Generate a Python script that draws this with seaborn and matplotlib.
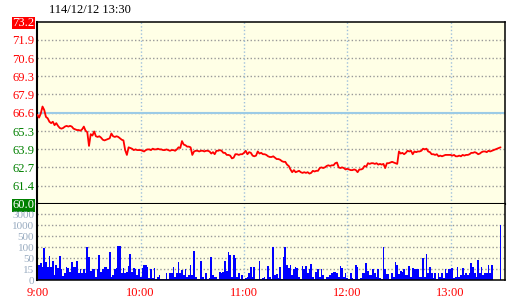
import numpy as np
import pandas as pd
import matplotlib
matplotlib.use("Agg")
import matplotlib.pyplot as plt
import seaborn as sns

# ---------------- data ----------------
title_text = "114/12/12 13:30"
time_labels = ["9:00", "10:00", "11:00", "12:00", "13:00"]
time_label_minutes = [0, 60, 120, 180, 240]

prev_close = 66.6
limit_up = 73.2
limit_down = 60.0
price_tick_labels = ["73.2", "71.9", "70.6", "69.3", "67.9", "66.6",
                     "65.3", "63.9", "62.7", "61.4", "60.0"]

volume_tick_values = [0, 15, 50, 100, 500, 1000, 3000]
volume_tick_labels = ["0", "15", "50", "100", "500", "1000", "3000"]

price = [
    66.45, 66.25, 66.55, 67.05, 66.8, 66.3, 66.2, 65.95, 65.85, 65.95,
    65.7, 65.85, 65.65, 65.5, 65.45, 65.5, 65.6, 65.65, 65.6, 65.65,
    65.6, 65.45, 65.4, 65.35, 65.35, 65.3, 65.4, 65.6, 65.3, 65.2,
    64.2, 65.05, 64.95, 65.25, 64.9, 64.85, 64.9, 64.8, 64.65, 64.6,
    64.65, 64.7, 64.75, 65.1, 64.9, 64.85, 64.9, 64.85, 64.75, 64.65,
    64.6, 63.9, 63.55, 64.1, 64.05, 64.0, 63.9, 63.95, 63.9, 63.9,
    63.9, 63.85, 63.8, 63.9, 63.95, 63.95, 63.9, 64.0, 63.95, 63.95,
    64.0, 63.95, 63.95, 63.9, 63.9, 63.95, 63.9, 63.85, 63.9, 63.9,
    63.85, 63.95, 64.1, 64.05, 64.55, 64.3, 64.25, 64.15, 64.15, 64.1,
    63.55, 63.8, 63.85, 63.85, 63.8, 63.85, 63.85, 63.8, 63.85, 63.85,
    63.8, 63.65, 63.75, 63.6, 63.85, 63.85, 63.9, 63.85, 63.7, 63.7,
    63.55, 63.55, 63.5, 63.3, 63.35, 63.6, 63.6, 63.55, 63.6, 63.6,
    63.7, 63.85, 63.6, 63.75, 63.7, 63.5, 63.45, 63.5, 63.8, 63.65,
    63.7, 63.6, 63.6, 63.55, 63.45, 63.4, 63.4, 63.45, 63.35, 63.25,
    63.25, 63.2, 63.1, 63.05, 63.05, 62.85, 62.75, 62.5, 62.3, 62.45,
    62.3, 62.35, 62.4, 62.3, 62.25, 62.3, 62.25, 62.3, 62.2, 62.25,
    62.4, 62.35, 62.4, 62.4, 62.6, 62.65, 62.6, 62.65, 62.75, 62.8,
    62.75, 62.8, 62.8, 62.95, 63.0, 62.65, 62.6, 62.65, 62.6, 62.5,
    62.55, 62.5, 62.45, 62.45, 62.5, 62.45, 62.3, 62.5, 62.5, 62.55,
    62.75, 62.7, 62.95, 62.9, 62.95, 62.95, 62.9, 62.95, 62.85, 62.9,
    62.85, 62.9, 62.6, 62.95, 62.95, 63.0, 63.05, 63.0, 62.95, 62.9,
    63.8, 63.65, 63.7, 63.6, 63.7, 63.85, 63.8, 63.85, 63.6, 63.8,
    63.75, 63.8, 63.8, 63.85, 64.0, 63.95, 64.0, 63.8, 63.75, 63.6,
    63.6, 63.55, 63.6, 63.45, 63.5, 63.45, 63.5, 63.55, 63.55, 63.55,
    63.55, 63.5, 63.55, 63.45, 63.45, 63.5, 63.45, 63.55, 63.5, 63.55,
    63.55, 63.6, 63.7, 63.7, 63.75, 63.7, 63.6, 63.65, 63.75, 63.8,
    63.8, 63.75, 63.85, 63.8, 63.85, None, None, None, None, 64.1,
]

volume = [
    220, 29, 34, 23, 95, 39, 21, 60, 22, 40,
    7, 30, 19, 60, 17, 6, 10, 22, 20, 12,
    39, 22, 21, 40, 10, 17, 10, 17, 10, 105,
    57, 13, 17, 17, 5, 17, 65, 12, 17, 21,
    21, 15, 80, 4, 7, 15, 20, 140, 160, 10,
    20, 10, 12, 27, 70, 12, 20, 15, 7, 15,
    5, 19, 30, 28, 21, 3, 15, 3, 20, 2,
    5, 7, 2, 2, 2, 10, 2, 10, 10, 22,
    5, 10, 37, 10, 14, 7, 17, 5, 7, 30,
    7, 85,
    5, 2, 2, 40, 5, 2, 10, 2, 3, 57,
    7, 5, 5, 2, 12, 10, 12, 40, 13, 80,
    65, 5, 65, 50, 5, 10, 2, 7, 2, 3,
    5, 10, 22, 5, 21, 2, 2, 40, 2, 3,
    5, 2, 27, 5, 2, 100, 7, 9, 3, 21,
    2, 55, 105, 30, 19, 30, 7, 15, 22, 19,
    5, 2, 27, 15, 27, 10, 15, 33, 5, 2,
    12, 15, 5, 17, 7, 2, 5, 5, 7, 10,
    12, 11, 10, 5, 27, 20, 5, 10, 3, 2,
    10, 3, 2, 29, 22, 2, 3, 10, 10, 34,
    13, 7, 7, 17, 10, 5, 15, 3, 2, 110,
    17, 8, 8, 2, 10, 5, 37, 29, 8, 13,
    12, 17, 7, 7, 27, 5, 20, 17, 15, 17,
    5, 5, 50, 5, 68, 10, 22, 10, 3, 10,
    2, 10, 5, 10, 3, 15, 10, 15, 17, 19,
    3, 5, 21, 5, 7, 19, 7, 10, 7, 10,
    34, 21, 10, 5, 45, 10, 21, 7, 10, 10,
    30, 10, 30, 0, 0, 0, 0, 1040,
]

minutes = np.arange(len(price))
vol_minutes = np.arange(len(volume))

# ---------------- style ----------------
sns.set_style("white")
plt.rcParams["font.family"] = ["Liberation Serif", "DejaVu Serif"]

RED = "#ff0000"
GREEN = "#008000"
BG = "#ffffe6"
GRID = "#999999"
VGRID = "#9fc0dc"
VOLTXT = "#98abc0"

fig = plt.figure(figsize=(5.2, 3.0), dpi=100)
L = 37 / 520
R = 504.5 / 520
ax_p = fig.add_axes([L, 1 - 204 / 300, R - L, (204 - 21.5) / 300])
ax_v = fig.add_axes([L, 1 - 280.3 / 300, R - L, (280.3 - 204) / 300])

for ax in (ax_p, ax_v):
    ax.set_facecolor(BG)

# ---- price panel ----
df_p = pd.DataFrame({"minute": minutes, "price": price}).dropna()
df_p["price"] = df_p["price"].astype(float)
price_ticks = np.linspace(limit_up, limit_down, len(price_tick_labels))
for t in price_ticks[1:-1]:
    ax_p.axhline(t, color=GRID, lw=1, ls=(0, (1, 1.6)), zorder=1)
for m in time_label_minutes[1:]:
    ax_p.axvline(m, color=VGRID, lw=1, ls=(0, (1, 1.6)), zorder=1)
ax_p.axhline(prev_close, color="#9ccbe6", lw=1.5, zorder=1.5)

sns.lineplot(data=df_p, x="minute", y="price", color=RED, lw=1.3,
             estimator=None, ax=ax_p, zorder=3)
ax_p.set_ylim(limit_down, limit_up)
ax_p.set_yticks(price_ticks)
ax_p.set_yticklabels(price_tick_labels)
ax_p.set_xlim(-0.2, 271.3)
ax_p.set_xticks([])
ax_p.set_xlabel("")
ax_p.set_ylabel("")
ax_p.tick_params(axis="y", length=0, pad=2, labelsize=9)
for lab, txt in zip(ax_p.get_yticklabels(), price_tick_labels):
    val = float(txt)
    if txt == price_tick_labels[0]:
        lab.set_color("white")
        lab.set_bbox(dict(facecolor=RED, edgecolor="none", pad=0.3))
    elif txt == price_tick_labels[-1]:
        lab.set_color("white")
        lab.set_bbox(dict(facecolor=GREEN, edgecolor="none", pad=0.3))
    elif val >= prev_close:
        lab.set_color(RED)
    else:
        lab.set_color(GREEN)

# ---- volume panel ----
vk = [0, 15, 50, 100, 500, 1000, 3000, 5000]
pk = list(range(len(vk)))


def fwd(v):
    return np.interp(v, vk, pk)


def inv(p):
    return np.interp(p, pk, vk)


ax_v.set_yscale("function", functions=(fwd, inv))
for t in volume_tick_values[1:]:
    ax_v.axhline(t, color=GRID, lw=1, ls=(0, (1, 1.6)), zorder=1)
for m in time_label_minutes[1:]:
    ax_v.axvline(m, color=VGRID, lw=1, ls=(0, (1, 1.6)), zorder=1)

sns.barplot(x=vol_minutes, y=volume, native_scale=True, color="#0000ff",
            saturation=1, width=1.0, linewidth=0, antialiased=False,
            ax=ax_v, zorder=2)
ax_v.set_ylim(0, inv(6.94))
ax_v.set_yticks(volume_tick_values)
ax_v.set_yticklabels(volume_tick_labels)
ax_v.yaxis.set_minor_locator(matplotlib.ticker.NullLocator())
ax_v.set_xlim(-0.2, 271.3)
ax_v.set_xticks(time_label_minutes)
ax_v.set_xticklabels(time_labels)
ax_v.set_xlabel("")
ax_v.set_ylabel("")
ax_v.tick_params(axis="y", length=0, pad=2, labelsize=8, labelcolor=VOLTXT)
ax_v.tick_params(axis="x", length=0, pad=4.5, labelsize=9, labelcolor=RED)

for ax in (ax_p, ax_v):
    for s in ax.spines.values():
        s.set_color("black")
        s.set_linewidth(1.1)
        s.set_visible(True)
    ax.spines["left"].set_linewidth(1.5)
ax_p.spines["bottom"].set_linewidth(1.5)
ax_v.spines["top"].set_visible(False)

fig.text(49 / 520, 1 - 12.7 / 300, title_text, fontsize=9, color="black",
         ha="left", va="baseline")

fig.savefig("out.png", dpi=100, facecolor="white")
